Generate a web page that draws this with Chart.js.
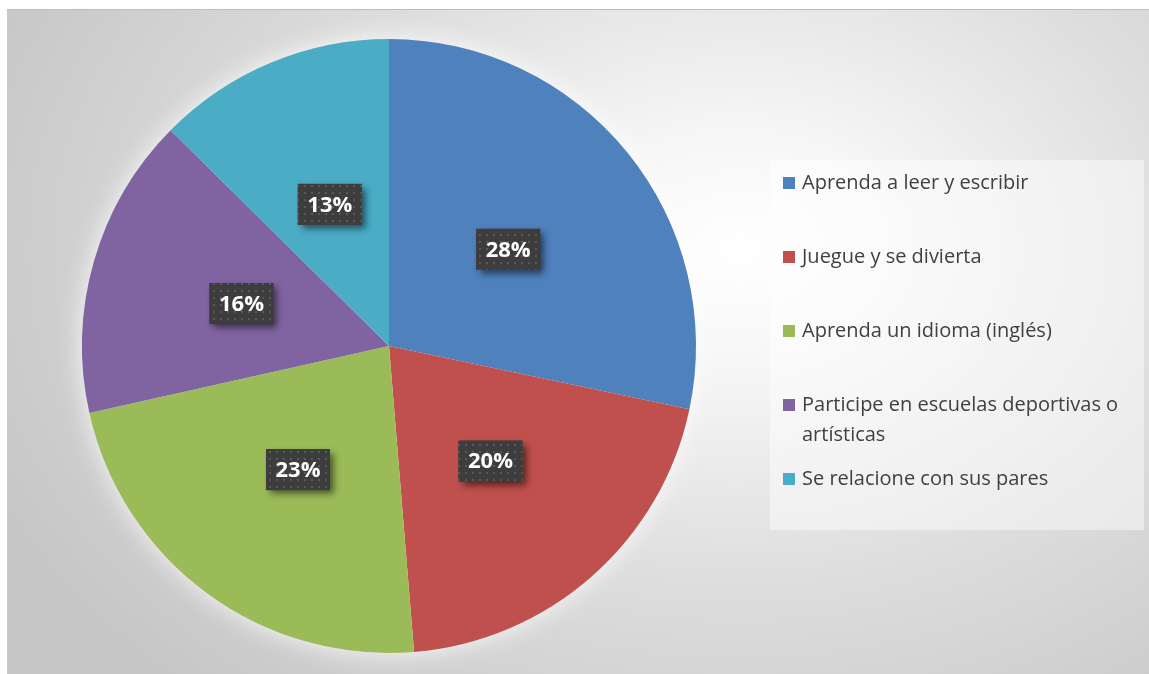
<!DOCTYPE html>
<html>
<head>
<meta charset="utf-8">
<script src="https://cdn.jsdelivr.net/npm/chart.js@4.4.0/dist/chart.umd.min.js"></script>
<style>
  html, body { margin: 0; padding: 0; background: #fff; }
  #fondo {
    position: absolute; left: 7px; top: 9px; width: 1142px; height: 665px;
    border-top: 1px solid #bdbdbd; border-left: 1px solid #c8c8c8;
    background: radial-gradient(ellipse 72% 90% at 64% 36%, #ffffff 0%, #f6f6f6 20%, #dedede 55%, #c6c6c6 100%);
  }
  #grafico { position: absolute; left: 0; top: 0; }
</style>
</head>
<body>
<div id="fondo"></div>
<canvas id="grafico" width="1149" height="674"></canvas>
<script>
// Datos del gráfico (porcentajes)
const categorias = ['Aprenda a leer y escribir', 'Juegue y se divierta', 'Aprenda un idioma (inglés)', 'Participe en escuelas deportivas o artísticas', 'Se relacione con sus pares'];
const valores = [28.3, 20.4, 22.8, 15.9, 12.6];
const colores = ['#4f81bd', '#c0504d', '#9bbb59', '#8064a2', '#4bacc6'];

// Patrón punteado para las etiquetas
function crearPatron(ctx) {
    const c = document.createElement('canvas');
    c.width = 7; c.height = 7;
    const p = c.getContext('2d');
    p.fillStyle = '#3d3d3d';
    p.fillRect(0, 0, 7, 7);
    p.fillStyle = '#595959';
    p.fillRect(3, 3, 2, 2);
    return ctx.createPattern(c, 'repeat');
}

// Brillo blanco alrededor del pastel
const brillo = {
    id: 'brillo',
    beforeDatasetsDraw(chart) {
        const arc = chart.getDatasetMeta(0).data[0];
        if (!arc) return;
        const ctx = chart.ctx;
        ctx.save();
        ctx.shadowColor = 'rgba(255,255,255,0.9)';
        ctx.shadowBlur = 26;
        ctx.fillStyle = '#ffffff';
        ctx.beginPath();
        ctx.arc(arc.x, arc.y, arc.outerRadius - 1, 0, Math.PI * 2);
        ctx.fill();
        ctx.restore();
    }
};

// Etiquetas de porcentaje
const etiquetas = {
    id: 'etiquetas',
    afterDatasetsDraw(chart) {
        const ctx = chart.ctx;
        const total = valores.reduce((a, b) => a + b, 0);
        const patron = crearPatron(ctx);
        chart.getDatasetMeta(0).data.forEach((arc, i) => {
            const pos = arc.tooltipPosition();
            const texto = Math.round(valores[i] / total * 100) + '%';
            const w = 64, h = 41;
            ctx.save();
            ctx.shadowColor = 'rgba(0,0,0,0.55)';
            ctx.shadowBlur = 7;
            ctx.shadowOffsetX = 4;
            ctx.shadowOffsetY = 4;
            ctx.fillStyle = '#3d3d3d';
            ctx.fillRect(pos.x - w / 2, pos.y - h / 2, w, h);
            ctx.restore();
            ctx.save();
            ctx.fillStyle = patron;
            ctx.fillRect(pos.x - w / 2, pos.y - h / 2, w, h);
            ctx.fillStyle = '#ffffff';
            ctx.font = 'bold 22px "Open Sans"';
            ctx.textAlign = 'center';
            ctx.textBaseline = 'middle';
            ctx.fillText(texto, pos.x, pos.y + 1);
            ctx.restore();
        });
    }
};

// Leyenda dibujada a mano (con fondo y texto en varias líneas)
const leyenda = {
    id: 'leyenda',
    afterDraw(chart) {
        const ctx = chart.ctx;
        ctx.save();
        ctx.fillStyle = 'rgba(255,255,255,0.45)';
        ctx.fillRect(770, 160, 374, 370);
        ctx.font = '20px "Open Sans"';
        ctx.textBaseline = 'middle';
        let y = 183;
        categorias.forEach((cat, i) => {
            ctx.fillStyle = colores[i];
            ctx.fillRect(783, y - 6, 12, 12);
            // partir el texto si no cabe
            const palabras = cat.split(' ');
            let lineas = [], linea = '';
            palabras.forEach(p => {
                const prueba = linea ? linea + ' ' + p : p;
                if (ctx.measureText(prueba).width > 340 && linea) {
                    lineas.push(linea);
                    linea = p;
                } else {
                    linea = prueba;
                }
            });
            lineas.push(linea);
            ctx.fillStyle = '#404040';
            lineas.forEach((l, j) => ctx.fillText(l, 802, y + j * 30));
            y += 74;
        });
        ctx.restore();
    }
};

const ctx = document.getElementById('grafico').getContext('2d');
const miGrafico = new Chart(ctx, {
    type: 'pie',
    data: {
        labels: categorias,
        datasets: [{
            data: valores,
            backgroundColor: colores,
            borderWidth: 0,
            hoverOffset: 0
        }]
    },
    options: {
        responsive: false,
        animation: false,
        layout: { padding: { left: 82, right: 453, top: 39, bottom: 21 } },
        plugins: {
            legend: { display: false },
            tooltip: { enabled: false }
        }
    },
    plugins: [brillo, etiquetas, leyenda]
});
</script>
</body>
</html>
